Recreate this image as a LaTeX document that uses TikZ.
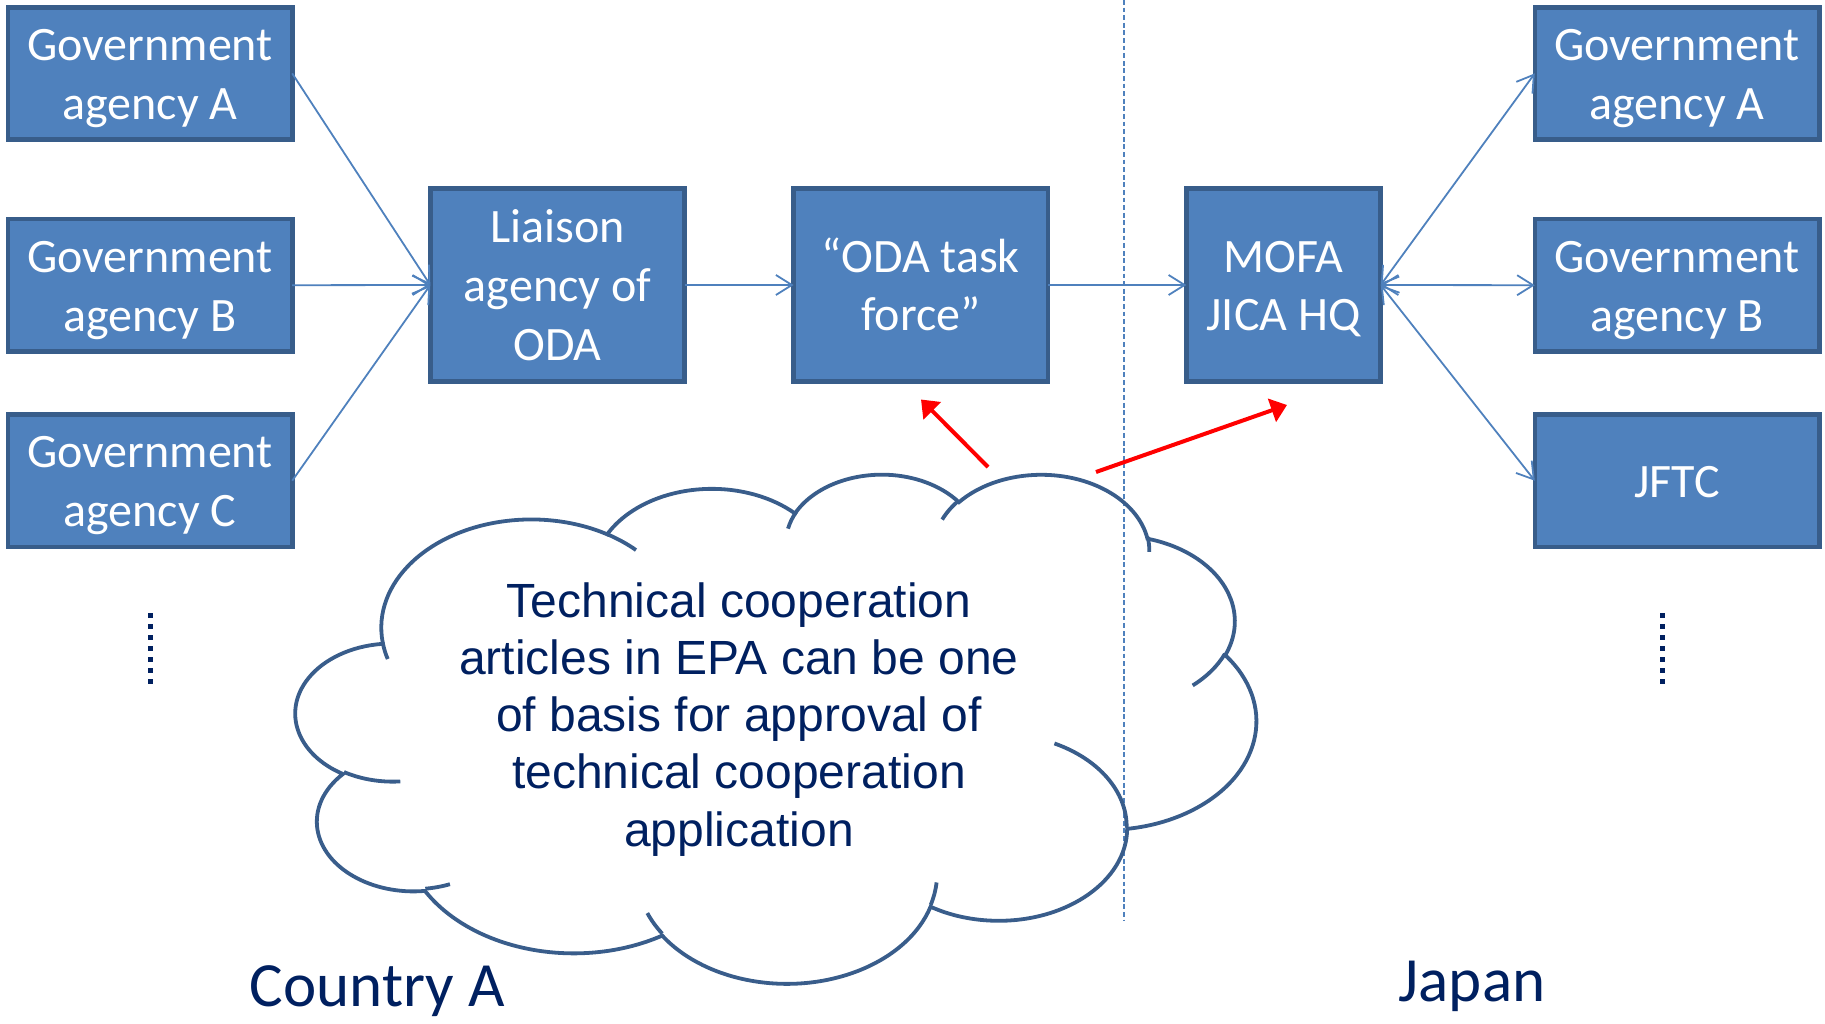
\documentclass[tikz,border=0pt]{standalone}
\usepackage{fontspec}
\setmainfont{Carlito}
\newfontfamily\arialf{Liberation Sans}
\usetikzlibrary{arrows.meta}
\definecolor{boxfill}{HTML}{4F81BD}
\definecolor{boxline}{HTML}{385D8A}
\definecolor{navy}{HTML}{002060}
\definecolor{cloudcol}{HTML}{395D8B}
\definecolor{redarrow}{HTML}{FF0000}
\newcommand\bxs{\rule[-0.25em]{0pt}{1.19em}}
\tikzset{
  carc/.code n args={4}{%
    \pgfmathsetmacro\cA{atan2((#1)*sin(#3),(#2)*cos(#3))}%
    \pgfmathsetmacro\cB{atan2((#1)*sin((#3)+(#4)),(#2)*cos((#3)+(#4)))}%
    \pgfmathsetmacro\cD{\cB-\cA+360*round(((#4)-(\cB-\cA))/360)}%
    \edef\cTmp{\noexpand\tikzset{insert path={arc[start angle=\cA, delta angle=\cD, x radius=#1, y radius=#2]}}}%
    \cTmp
  }
}
\begin{document}
\begin{tikzpicture}[x=0.5pt, y=-0.5pt,
  agency/.style={draw=boxline, fill=boxfill, line width=2.3pt, text=white,
    align=center, inner sep=0pt, outer sep=0pt,
    font=\fontsize{24}{29.3}\selectfont},
  sidebox/.style={agency, minimum width=142.2pt, minimum height=66.2pt},
  midbox/.style={agency, minimum width=127.2pt, minimum height=96.7pt},
  mofabox/.style={agency, minimum width=97.2pt, minimum height=96.7pt},
  conn/.style={draw=boxfill, line width=0.9pt, -{Straight Barb[length=8pt, width=10pt, line width=0.9pt]}},
  biconn/.style={draw=boxfill, line width=0.9pt, {Straight Barb[length=8pt, width=10pt, line width=0.9pt]}-{Straight Barb[length=8pt, width=10pt, line width=0.9pt]}},
  redconn/.style={draw=redarrow, line width=2pt, -{Triangle[length=8pt, width=12pt]}},
  cloudstroke/.style={draw=cloudcol, line width=1.9pt},
  dotsq/.style={fill=navy},
  label/.style={text=navy, font=\fontsize{31.5}{38}\selectfont, inner sep=0pt, anchor=base}
]
\useasboundingbox (0,0) rectangle (1825,1023);

% left column
\node[sidebox] (ga) at (150,73.4) {\bxs Government\\\bxs agency A};
\node[sidebox] (gb) at (150,285.2) {\bxs Government\\\bxs agency B};
\node[sidebox] (gc) at (150,480.7) {\bxs Government\\\bxs agency C};
% middle
\node[midbox] (li) at (557.5,285) {\bxs Liaison\\\bxs agency of\\\bxs ODA};
\node[midbox] (oda) at (920.8,285) {\bxs “ODA task\\\bxs force”};
\node[mofabox] (mofa) at (1283.5,285) {\bxs MOFA\\\bxs JICA HQ};
% right column
\node[sidebox] (ra) at (1677,73.4) {\bxs Government\\\bxs agency A};
\node[sidebox] (rb) at (1677,285.2) {\bxs Government\\\bxs agency B};
\node[sidebox] (jf) at (1677,480.7) {\bxs JFTC};

% connectors
\draw[conn] (ga.east) -- (li.west);
\draw[conn] (gb.east) -- (li.west);
\draw[conn] (gc.east) -- (li.west);
\draw[conn] (li.east) -- (oda.west);
\draw[conn] (oda.east) -- (mofa.west);
\draw[biconn] (mofa.east) -- (ra.west);
\draw[biconn] (mofa.east) -- (rb.west);
\draw[biconn] (mofa.east) -- (jf.west);

% dashed divider
\coordinate (dtop) at (1124,0);
\coordinate (dbot) at (1124,920);
\draw[draw=boxfill, line width=0.6pt, dash pattern=on 2.4pt off 1.4pt] (dtop) -- (dbot);

% vertical dots
\foreach \i in {0,...,6} {
  \fill[dotsq] (148.2,612.5+\i*11.0) rectangle +(5,5);
  \fill[dotsq] (1660.2,612.5+\i*11.0) rectangle +(5,5);
}

% cloud
\begin{scope}[shift={(296,473)}, x=11.111pt, y=-5.891pt]
\draw[cloudstroke] (3.900,14.370)
 [carc={6.753}{9.190}{-190.4875}{123.7805}]
 [carc={5.333}{7.267}{-144.1024}{89.9452}]
 [carc={4.365}{5.945}{-145.8079}{99.7230}]
 [carc={4.857}{6.595}{-130.9861}{117.2417}]
 [carc={5.333}{7.273}{-78.7089}{109.0269}]
 [carc={6.775}{9.220}{-46.2673}{130.2690}]
 [carc={5.785}{7.867}{0.6250}{114.0333}]
 [carc={6.752}{9.215}{22.4516}{115.1726}]
 [carc={7.720}{10.543}{66.2426}{75.7110}]
 [carc={4.360}{5.918}{-274.9421}{146.7356}]
 [carc={4.345}{5.945}{-246.8285}{152.5189}] -- cycle;
\draw[cloudstroke]
 (4.693,26.177) [carc={4.345}{5.945}{86.7420}{26.4295}]
 (6.928,34.899) [carc={4.360}{5.918}{73.6105}{11.4475}]
 (16.478,39.090) [carc={6.752}{9.215}{137.6242}{14.0811}]
 (28.827,34.751) [carc={6.752}{9.215}{6.4533}{15.9984}]
 (34.129,22.954) [carc={5.785}{7.867}{-70.2924}{70.9174}]
 (41.798,15.354) [carc={5.333}{7.273}{30.3180}{27.7515}]
 (38.324,5.426) [carc={4.857}{6.595}{-13.7443}{14.8589}]
 (29.078,3.952) [carc={4.857}{6.595}{-149.1815}{18.1954}]
 (22.141,4.720) [carc={4.365}{5.945}{-163.4943}{17.6864}]
 (14.000,5.192) [carc={6.753}{9.190}{-66.7070}{12.3194}]
 (4.127,15.789) [carc={6.753}{9.190}{157.6544}{11.8582}];
\end{scope}

\node[text=navy, align=center, inner sep=0pt,
  font=\arialf\fontsize{24}{28.6}\selectfont] (ctext) at (739,719.3)
  {Technical cooperation\\articles in EPA can be one\\of basis for approval of\\technical cooperation\\application};

% red arrows
\coordinate (r1s) at (988,467);
\coordinate (r1e) at (921,399.5);
\coordinate (r2s) at (1096,472);
\coordinate (r2e) at (1287,405);
\draw[redconn] (r1s) -- (r1e);
\draw[redconn] (r2s) -- (r2e);

% region labels
\node[label] (cA) at (377.5,1006.7) {Country A};
\node[label] (jp) at (1472,1001.7) {Japan};
\end{tikzpicture}
\end{document}
